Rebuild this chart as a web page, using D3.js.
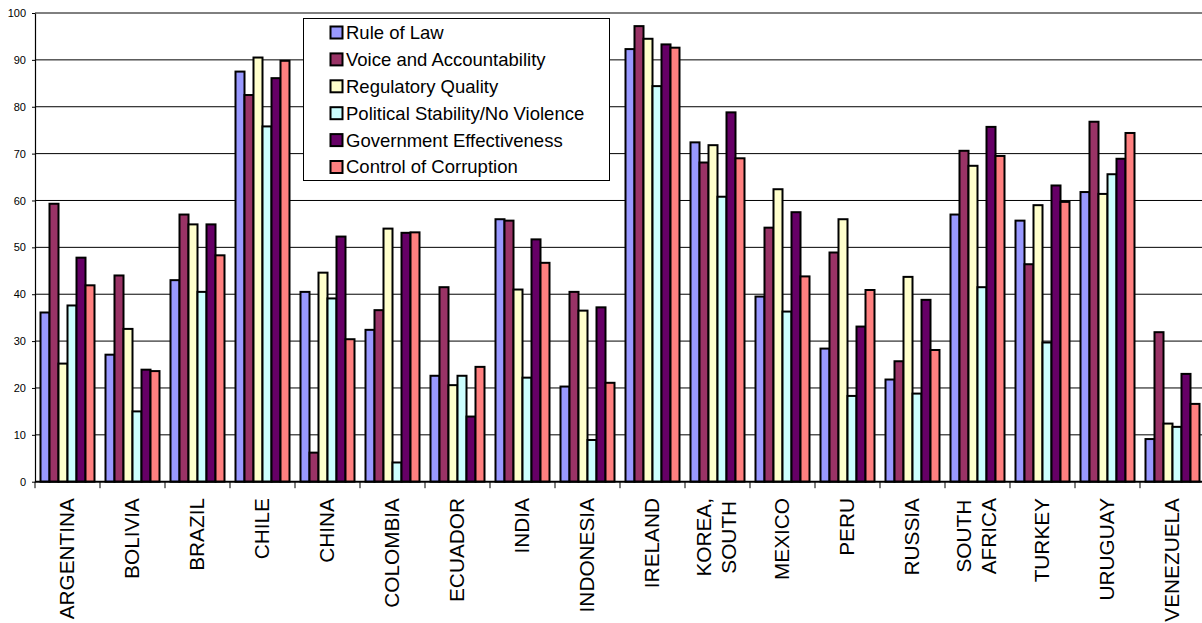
<!DOCTYPE html>
<html>
<head>
<meta charset="utf-8">
<script src="https://cdn.jsdelivr.net/npm/d3@7/dist/d3.min.js"></script>
<style>
  html, body { margin: 0; padding: 0; background: #fff; }
  svg { display: block; }
  text { font-family: Arial, "Liberation Sans", sans-serif; fill: #000; }
</style>
</head>
<body>
<svg id="chart" width="1202" height="623"></svg>
<script>
// Governance indicators (percentile rank, 0-100) by country
const countries = ["ARGENTINA", "BOLIVIA", "BRAZIL", "CHILE", "CHINA", "COLOMBIA",
  "ECUADOR", "INDIA", "INDONESIA", "IRELAND", "KOREA, SOUTH", "MEXICO", "PERU",
  "RUSSIA", "SOUTH AFRICA", "TURKEY", "URUGUAY", "VENEZUELA"];

const seriesNames = ["Rule of Law", "Voice and Accountability", "Regulatory Quality",
  "Political Stability/No Violence", "Government Effectiveness", "Control of Corruption"];

const seriesColors = ["#9999FF", "#993366", "#FFFFCC", "#CCFFFF", "#660066", "#FF8080"];

const ruleOfLaw      = [36.1, 27.1, 43.0, 87.5, 40.5, 32.4, 22.6, 56.0, 20.3, 92.3, 72.4, 39.5, 28.4, 21.8, 57.0, 55.7, 61.8, 9.1];
const voice          = [59.3, 44.0, 57.0, 82.5, 6.2, 36.6, 41.5, 55.7, 40.5, 97.2, 68.1, 54.2, 48.9, 25.7, 70.6, 46.4, 76.8, 31.9];
const regulatory     = [25.2, 32.6, 54.9, 90.5, 44.6, 54.0, 20.6, 41.0, 36.5, 94.5, 71.8, 62.4, 56.0, 43.7, 67.4, 59.0, 61.4, 12.4];
const stability      = [37.6, 15.0, 40.5, 75.8, 39.1, 4.1, 22.6, 22.2, 8.9, 84.4, 60.8, 36.3, 18.3, 18.8, 41.5, 29.7, 65.6, 11.7];
const effectiveness  = [47.8, 23.9, 54.9, 86.1, 52.3, 53.1, 13.9, 51.7, 37.2, 93.3, 78.8, 57.5, 33.1, 38.8, 75.7, 63.2, 68.9, 23.0];
const corruption     = [41.9, 23.6, 48.3, 89.8, 30.4, 53.2, 24.5, 46.7, 21.1, 92.6, 69.0, 43.8, 40.9, 28.1, 69.5, 59.7, 74.4, 16.6];

const yTicks = [0, 10, 20, 30, 40, 50, 60, 70, 80, 90, 100];

const seriesValues = [ruleOfLaw, voice, regulatory, stability, effectiveness, corruption];

const svg = d3.select("#chart");

const plotLeft = 35, plotRight = 1205, plotTop = 13, plotBottom = 481.7;

const x = d3.scaleBand().domain(countries).range([plotLeft, plotRight]).padding(0);
const xInner = d3.scaleBand().domain(seriesNames).range([5.5, x.bandwidth() - 5.5]).padding(0);
const y = d3.scaleLinear().domain([0, 100]).range([plotBottom, plotTop]);

// horizontal gridlines
svg.append("g")
  .selectAll("line")
  .data(yTicks.filter(d => d > 0))
  .join("line")
  .attr("x1", plotLeft).attr("x2", plotRight)
  .attr("y1", d => y(d)).attr("y2", d => y(d))
  .attr("stroke", "#000")
  .attr("stroke-width", 1);

// bars
const groups = svg.append("g")
  .selectAll("g")
  .data(countries)
  .join("g")
  .attr("transform", d => `translate(${x(d)},0)`);

groups.selectAll("rect")
  .data((c, ci) => seriesNames.map((s, si) => ({ s, si, v: seriesValues[si][ci] })))
  .join("rect")
  .attr("x", d => xInner(d.s))
  .attr("width", xInner.bandwidth())
  .attr("y", d => y(d.v))
  .attr("height", d => y(0) - y(d.v))
  .attr("fill", d => seriesColors[d.si])
  .attr("stroke", "#000")
  .attr("stroke-width", 2);

// y axis
const yAxis = svg.append("g")
  .attr("transform", `translate(${plotLeft},0)`)
  .call(d3.axisLeft(y).tickValues(yTicks).tickSize(3).tickSizeOuter(0).tickPadding(6));
yAxis.select(".domain").attr("stroke", "#000").attr("stroke-width", 1.2);
yAxis.selectAll(".tick line").attr("stroke", "#000");
yAxis.selectAll("text")
  .style("font-size", "11px")
  .style("font-family", "Arial, 'Liberation Sans', sans-serif");

// x axis line and category boundary ticks
svg.append("line")
  .attr("x1", plotLeft).attr("x2", plotRight)
  .attr("y1", y(0)).attr("y2", y(0))
  .attr("stroke", "#000")
  .attr("stroke-width", 2);

svg.append("g")
  .selectAll("line")
  .data(countries.map(c => x(c)).concat([x.range()[1]]))
  .join("line")
  .attr("x1", d => d).attr("x2", d => d)
  .attr("y1", y(0)).attr("y2", y(0) + 6.5)
  .attr("stroke", "#000")
  .attr("stroke-width", 1);

// rotated category labels
const labelTop = 498;
const lineGap = 25;
const labels = svg.append("g")
  .selectAll("g")
  .data(countries)
  .join("g")
  .attr("transform", d => `translate(${x(d) + x.bandwidth() / 2},${labelTop}) rotate(-90)`);

labels.each(function (d) {
  const g = d3.select(this);
  const lines = d.split(" ");
  const n = lines.length;
  const texts = g.selectAll("text")
    .data(lines)
    .join("text")
    .style("font-size", "20.8px")
    .attr("text-anchor", "middle")
    .attr("y", (t, i) => (i - (n - 1) / 2) * lineGap + 6)
    .text(t => t);
  let maxLen = 0;
  texts.each(function () { maxLen = Math.max(maxLen, this.getComputedTextLength()); });
  texts.attr("x", -maxLen / 2);
});

// legend
const legend = svg.append("g").attr("transform", "translate(303.5,18.5)");
legend.append("rect")
  .attr("width", 306)
  .attr("height", 162)
  .attr("fill", "#fff")
  .attr("stroke", "#000")
  .attr("stroke-width", 1);

const items = legend.selectAll("g.item")
  .data(seriesNames)
  .join("g")
  .attr("class", "item")
  .attr("transform", (d, i) => `translate(0,${14 + i * 26.9})`);

items.append("rect")
  .attr("x", 27)
  .attr("y", -6)
  .attr("width", 12)
  .attr("height", 12)
  .attr("fill", (d, i) => seriesColors[i])
  .attr("stroke", "#000")
  .attr("stroke-width", 2);

items.append("text")
  .attr("x", 42.5)
  .attr("dy", "0.35em")
  .style("font-size", "18.5px")
  .text(d => d);
</script>
</body>
</html>
